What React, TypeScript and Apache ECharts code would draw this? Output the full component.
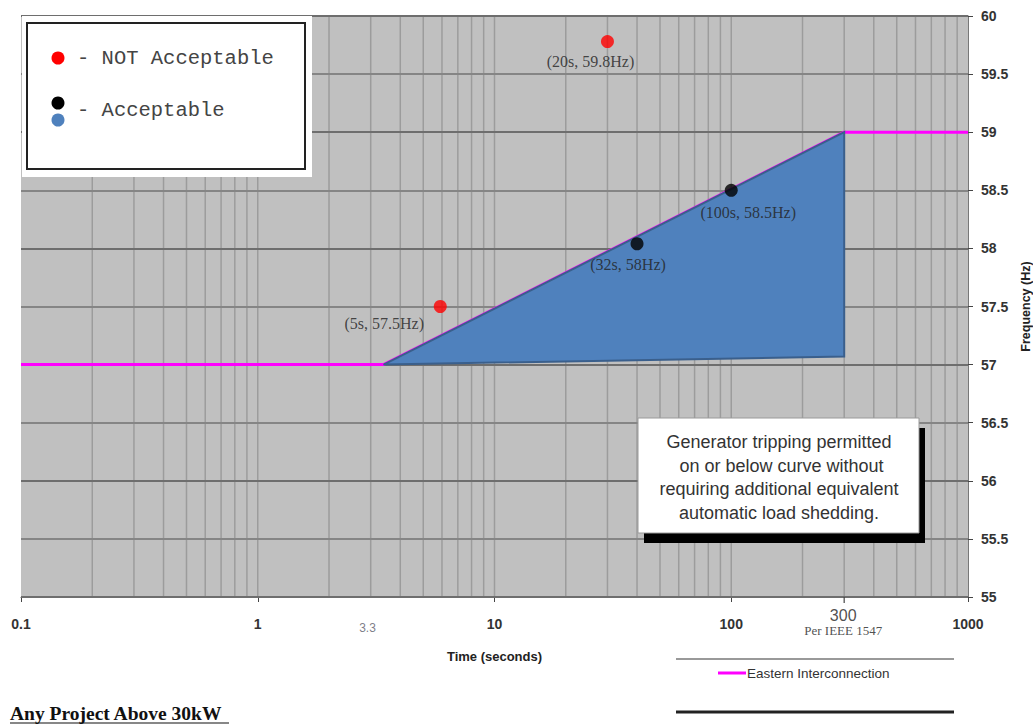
import React, { useEffect, useRef } from "react";
import * as echarts from "echarts";

// ---- data ----
const curveT = [0.1, 3.4, 300, 1000];
const curveF = [57, 57, 59, 59];
const zoneT = [3.4, 300, 300];
const zoneF = [57.0, 59.0, 57.07];
const pointT = [5.9, 30, 40, 100];
const pointF = [57.5, 59.78, 58.04, 58.5];
const pointLabels = ["(5s, 57.5Hz)", "(20s, 59.8Hz)", "(32s, 58Hz)", "(100s, 58.5Hz)"];
const pointOk = [false, false, true, true];
const gridT = [
  0.2, 0.3, 0.4, 0.5, 0.6, 0.7, 0.8, 0.9, 1,
  2, 3, 4, 5, 6, 7, 8, 9, 10,
  20, 30, 40, 50, 60, 70, 80, 90, 100,
  200, 300, 400, 500, 600, 700, 800, 900,
];
const freqMin = 55;
const freqMax = 60;
const extraTickT = [3.3, 300];
const extraTickLabels = ["3.3", "300"];
const noteLines = [
  "Generator tripping permitted",
  " on or below curve without",
  "requiring additional equivalent",
  "automatic load shedding.",
];
const legendLabels = ["- NOT Acceptable", "- Acceptable"];

// ---- layout ----
const POINT_LABEL_OFFSET = [[-56, 17], [-17, 20], [-9, 21], [17, 22]];
const SANS = "Liberation Sans";
const SERIF = "Liberation Serif";
const MONO = "Liberation Mono";

export default function App() {
  const ref = useRef<HTMLDivElement>(null);
  useEffect(() => {
    if (!ref.current) return;
    const chart = echarts.init(ref.current, null, { renderer: "svg" });

    const option: any = {
      animation: false,
      backgroundColor: "#ffffff",
      grid: {
        left: 21,
        right: 65,
        top: 16,
        bottom: 128,
        show: true,
        backgroundColor: "#c0c0c0",
        borderWidth: 0,
        containLabel: false,
        outerBoundsMode: "none",
      },
      xAxis: {
        type: "log",
        logBase: 10,
        min: 0.1,
        max: 1000,
        name: "Time (seconds)",
        nameLocation: "middle",
        nameGap: 53,
        nameTextStyle: { fontFamily: SANS, fontWeight: "bold", fontSize: 13, color: "#222" },
        axisLine: { show: true, lineStyle: { color: "#555", width: 1 } },
        axisTick: { show: true, inside: false, length: 5, lineStyle: { color: "#444" } },
        axisLabel: {
          margin: 20,
          fontFamily: SANS,
          fontWeight: "bold",
          fontSize: 14,
          color: "#333",
          formatter: (v: number) => String(parseFloat(v.toPrecision(3))),
        },
        splitLine: { show: false },
      },
      yAxis: {
        type: "value",
        position: "right",
        min: freqMin,
        max: freqMax,
        interval: 0.5,
        z: 2,
        name: "Frequency (Hz)",
        nameLocation: "middle",
        nameGap: 47,
        nameRotate: 90,
        nameTextStyle: { fontFamily: SANS, fontWeight: "bold", fontSize: 12.5, color: "#222" },
        axisLine: { show: true, lineStyle: { color: "#777", width: 1 } },
        axisTick: { show: true, inside: false, length: 5, lineStyle: { color: "#444" } },
        axisLabel: {
          margin: 13,
          fontFamily: SANS,
          fontWeight: "bold",
          fontSize: 14,
          color: "#333",
        },
        splitLine: { show: true, lineStyle: { color: ["#6e6e6e", "#858585"], width: 2 } },
      },
      series: [
        {
          name: "gridlines",
          type: "custom",
          z: 1,
          silent: true,
          data: gridT.map((t) => [t, freqMin]),
          encode: { x: 0, y: 1 },
          renderItem: (params: any, api: any) => {
            const t = api.value(0);
            const p1 = api.coord([t, freqMin]);
            const p2 = api.coord([t, freqMax]);
            return {
              type: "line",
              shape: { x1: p1[0], y1: p1[1], x2: p2[0], y2: p2[1] },
              style: { stroke: "#9c9c9c", lineWidth: 1.5 },
            };
          },
        },
        {
          name: "Eastern Interconnection",
          type: "line",
          z: 3,
          data: curveT.map((t, i) => [t, curveF[i]]),
          showSymbol: false,
          symbol: "none",
          lineStyle: { color: "#ff00ff", width: 3 },
        },
        {
          name: "zone",
          type: "custom",
          z: 4,
          data: zoneT.map((t, i) => [t, zoneF[i]]),
          encode: { x: 0, y: 1 },
          renderItem: (params: any, api: any) => {
            if (params.dataIndex !== 0) return null;
            const pts = zoneT.map((t, i) => api.coord([t, zoneF[i]]));
            return {
              type: "polygon",
              shape: { points: pts },
              style: { fill: "#4f81bd", stroke: "#3a5f8c", lineWidth: 2 },
            };
          },
        },
        {
          name: "points",
          type: "scatter",
          z: 5,
          symbolSize: 13,
          clip: false,
          data: pointT.map((t, i) => ({
            value: [t, pointF[i]],
            itemStyle: { color: pointOk[i] ? "#000000" : "#ff0000" },
            label: {
              show: true,
              position: "inside",
              offset: POINT_LABEL_OFFSET[i],
              formatter: pointLabels[i],
              fontFamily: SERIF,
              fontSize: 16,
              color: "#222",
            },
          })),
        },
        {
          name: "extraTicks",
          type: "scatter",
          z: 5,
          clip: false,
          silent: true,
          data: extraTickT.map((t, i) => ({
            value: [t, freqMin],
            symbol: i === 1 ? "rect" : "circle",
            symbolSize: i === 1 ? [1.5, 6] : 0,
            symbolOffset: [0, 3],
            itemStyle: { color: "#444" },
            label: {
              show: true,
              position: "inside",
              offset: i === 1 ? [-1, 22] : [-13, 28],
              formatter: i === 1 ? "{a|" + extraTickLabels[1] + "}\n{b|Per IEEE 1547}" : extraTickLabels[i],
              fontFamily: SANS,
              fontSize: i === 1 ? 16 : 12,
              color: i === 1 ? "#222" : "#5a5a6a",
              lineHeight: 15,
              rich: {
                a: { fontFamily: SANS, fontSize: 16, color: "#222", lineHeight: 16 },
                b: { fontFamily: SERIF, fontSize: 13, color: "#222", lineHeight: 14 },
              },
            },
          })),
        },
      ],
      graphic: [
        // legend box
        { type: "rect", z: 100, shape: { x: 22, y: 16, width: 290, height: 161 }, style: { fill: "#ffffff" } },
        { type: "rect", z: 101, shape: { x: 27, y: 23, width: 278, height: 146 }, style: { fill: "#ffffff", stroke: "#222", lineWidth: 2 } },
        { type: "circle", z: 102, shape: { cx: 58, cy: 58, r: 6.5 }, style: { fill: "#ff0000" } },
        { type: "circle", z: 102, shape: { cx: 58, cy: 103, r: 6.5 }, style: { fill: "#000000" } },
        { type: "circle", z: 102, shape: { cx: 58, cy: 120, r: 6.5 }, style: { fill: "#4f81bd" } },
        { type: "text", z: 102, x: 77, y: 58, style: { text: legendLabels[0], fontFamily: MONO, fontSize: 20.5, fill: "#444", verticalAlign: "middle" } },
        { type: "text", z: 102, x: 77, y: 110, style: { text: legendLabels[1], fontFamily: MONO, fontSize: 20.5, fill: "#444", verticalAlign: "middle" } },
        // note box
        { type: "rect", z: 100, shape: { x: 644, y: 428, width: 281, height: 115 }, style: { fill: "#000000" } },
        { type: "rect", z: 101, shape: { x: 638, y: 418, width: 281, height: 115 }, style: { fill: "#ffffff", stroke: "#9a9a9a", lineWidth: 1 } },
        ...noteLines.map((t, i) => ({
          type: "text",
          z: 102,
          x: 779,
          y: 442 + i * 23.5,
          style: { text: t, fontFamily: SANS, fontSize: 18, fill: "#333", align: "center", verticalAlign: "middle" },
        })),
        // bottom-right legend
        { type: "line", z: 100, shape: { x1: 676, y1: 659, x2: 954, y2: 659 }, style: { stroke: "#777", lineWidth: 1.5 } },
        { type: "line", z: 100, shape: { x1: 718, y1: 673, x2: 746, y2: 673 }, style: { stroke: "#ff00ff", lineWidth: 3 } },
        { type: "text", z: 100, x: 747, y: 673, style: { text: "Eastern Interconnection", fontFamily: SANS, fontSize: 13.5, fill: "#333", verticalAlign: "middle" } },
        { type: "line", z: 100, shape: { x1: 676, y1: 712, x2: 954, y2: 712 }, style: { stroke: "#222", lineWidth: 3 } },
        // bottom-left caption
        { type: "text", z: 100, x: 10, y: 713, style: { text: "Any Project Above 30kW", fontFamily: SERIF, fontWeight: "bold", fontSize: 19.5, fill: "#111", verticalAlign: "middle" } },
        { type: "line", z: 100, shape: { x1: 10, y1: 723, x2: 229, y2: 723 }, style: { stroke: "#111", lineWidth: 1.2 } },
      ],
    };

    chart.setOption(option);
    return () => chart.dispose();
  }, []);

  return (
    <div
      ref={ref}
      style={{ position: "absolute", left: 0, top: 0, width: 1033, height: 725 }}
    />
  );
}
